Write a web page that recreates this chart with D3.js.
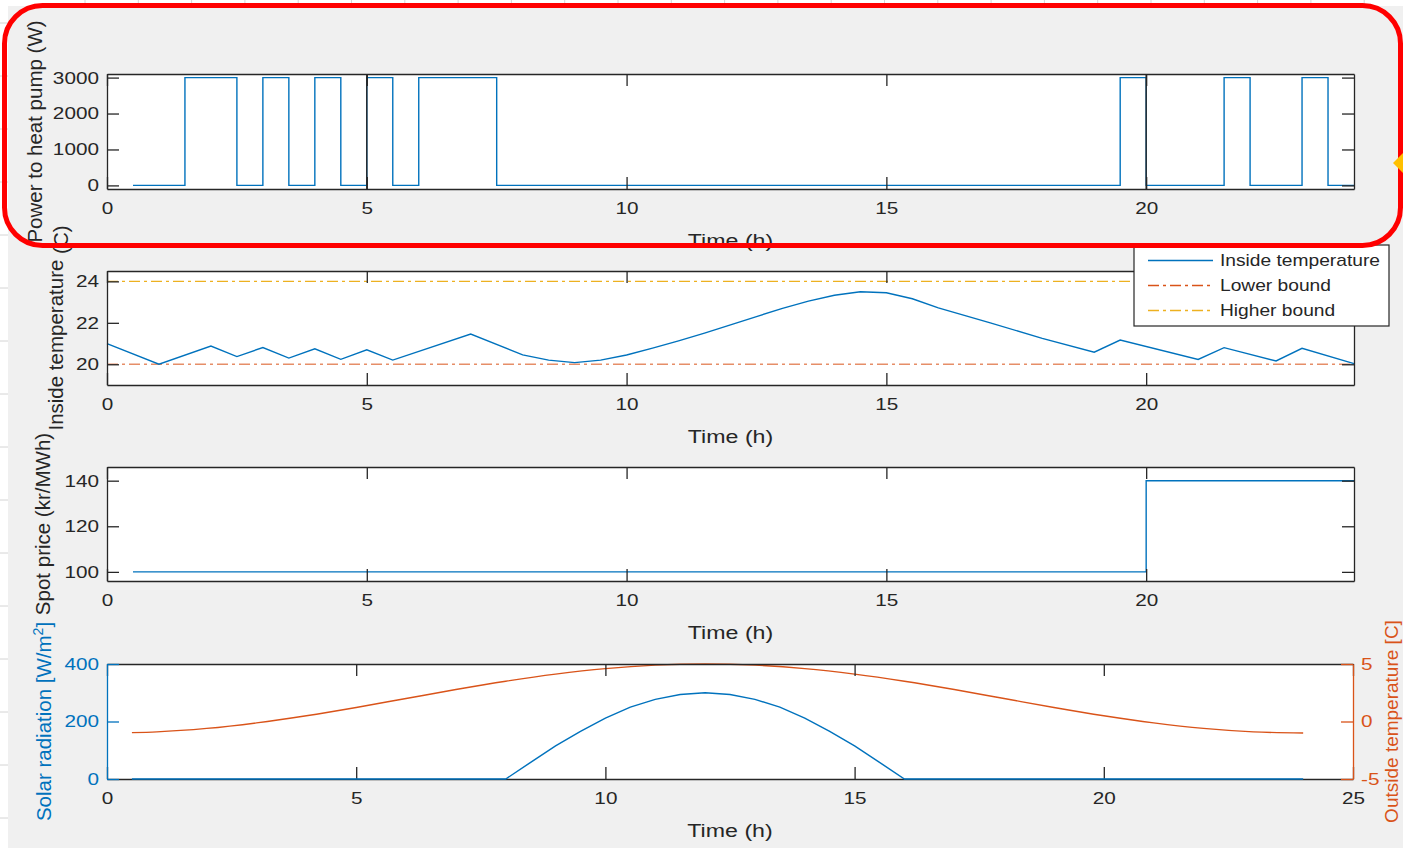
<!DOCTYPE html>
<html>
<head>
<meta charset="utf-8">
<script src="https://cdn.jsdelivr.net/npm/d3@7"></script>
<style>
  html, body { margin: 0; padding: 0; background: #f0f0f0; }
  svg { display: block; font-family: "Liberation Sans", Arial, Helvetica, sans-serif; }
</style>
</head>
<body>
<div id="chart"></div>
<script>
// ---- data ----
var powerTimes  = [0.5, 1.5, 2.5, 3, 3.5, 4, 4.5, 5, 5.5, 6, 7.5, 19.5, 20, 21.5, 22, 23, 23.5, 24];
var powerValues = [0, 3000, 0, 3000, 0, 3000, 0, 3000, 0, 3000, 0, 3000, 0, 3000, 0, 3000, 0, 0];
var powerMarks  = [5, 20];

var tempTimes  = [0, 1, 2, 2.5, 3, 3.5, 4, 4.5, 5, 5.5, 7, 8, 8.5, 9, 9.5, 10, 10.5, 11, 11.5, 12, 12.5,
                  13, 13.5, 14, 14.5, 15, 15.5, 16, 17, 18, 19, 19.5, 21, 21.5, 22.5, 23, 24];
var tempValues = [21.0, 20.0, 20.88, 20.37, 20.81, 20.3, 20.75, 20.24, 20.7, 20.2, 21.46, 20.45, 20.2, 20.08,
                  20.2, 20.45, 20.78, 21.13, 21.5, 21.9, 22.3, 22.7, 23.05, 23.33, 23.5, 23.45, 23.16, 22.72,
                  22.0, 21.25, 20.58, 21.17, 20.23, 20.8, 20.16, 20.77, 20.03];
var lowerBound  = 20;
var higherBound = 24;

var priceTimes  = [0.5, 20, 24];
var priceValues = [100, 140, 140];

var solarTimes  = [0.5, 8, 8.5, 9, 9.5, 10, 10.5, 11, 11.5, 12, 12.5, 13, 13.5, 14, 14.5, 15, 15.5, 16, 24];
var solarValues = [0, 0, 58, 115, 166, 212, 250, 277, 294, 300, 294, 277, 250, 212, 166, 115, 58, 0, 0];

var outTimes  = [0.5, 1, 2, 3, 4, 5, 6, 7, 8, 9, 10, 11, 12, 13, 14, 15, 16, 17, 18, 19, 20, 21, 22, 23, 24];
var outValues = [-0.97, -0.9, -0.6, -0.12, 0.5, 1.22, 2.0, 2.78, 3.5, 4.12, 4.6, 4.9, 5.0, 4.9, 4.6, 4.12,
                 3.5, 2.78, 2.0, 1.22, 0.5, -0.12, -0.6, -0.9, -1.0];

var hourTicks    = [0, 5, 10, 15, 20];
var hourTicks25  = [0, 5, 10, 15, 20, 25];
var powerTicks   = [0, 1000, 2000, 3000];
var tempTicks    = [20, 22, 24];
var priceTicks   = [100, 120, 140];
var solarTicks   = [0, 200, 400];
var outTicks     = [-5, 0, 5];
var legendNames  = ["Inside temperature", "Lower bound", "Higher bound"];

// ---- styles ----
var width = 1403, height = 848;
var axisColor = "#262626";
var blue = "#0072BD", orange = "#D95319", yellow = "#EDB120";
var tickLen = 12;
var stretch = 1.22;
var dashDot = "11,4,3,4";
var plain = d => String(d);

var svg = d3.select("#chart").append("svg")
  .attr("width", width)
  .attr("height", height);

svg.append("rect").attr("width", width).attr("height", height).attr("fill", "#f0f0f0");

// spreadsheet peeking out behind the figure
svg.append("rect").attr("x", 0).attr("y", 0).attr("width", width).attr("height", 6).attr("fill", "#fff");
svg.append("rect").attr("x", 0).attr("y", 0).attr("width", 8).attr("height", height).attr("fill", "#fff");
svg.append("g").selectAll("line").data(d3.range(85, width, 53.3)).join("line")
  .attr("x1", d => d).attr("x2", d => d).attr("y1", 0).attr("y2", 6)
  .attr("stroke", "#d4d4d4");
svg.append("g").selectAll("line").data(d3.range(23, height, 53)).join("line")
  .attr("x1", 0).attr("x2", 8).attr("y1", d => d).attr("y2", d => d)
  .attr("stroke", "#d4d4d4");

function stretchText(sel, k) {
  sel.each(function() {
    var t = d3.select(this);
    var x = +t.attr("x") || 0, y = +t.attr("y") || 0;
    t.attr("x", null).attr("y", null)
      .attr("transform", `translate(${x},${y}) scale(${k},1)`);
  });
}

function styleAxis(g, color, fontSize) {
  g.select(".domain").attr("stroke", color).attr("stroke-width", 1.3);
  g.selectAll(".tick line").attr("stroke", color).attr("stroke-width", 1.3);
  g.selectAll(".tick text").attr("fill", color).style("font-size", fontSize + "px");
  stretchText(g.selectAll(".tick text"), stretch);
}

function panel(opt) {
  var x = d3.scaleLinear().domain(opt.xDomain).range([107, opt.right]);
  var y = d3.scaleLinear().domain(opt.yDomain).range([opt.bottom, opt.top]);
  var g = svg.append("g");

  g.append("rect")
    .attr("x", 107).attr("y", opt.top)
    .attr("width", opt.right - 107).attr("height", opt.bottom - opt.top)
    .attr("fill", "#fff");

  var plot = g.append("g");

  var bottomAxis = g.append("g")
    .attr("transform", `translate(0,${opt.bottom})`)
    .call(d3.axisBottom(x).tickValues(opt.xTicks).tickFormat(plain)
      .tickSizeInner(-tickLen).tickSizeOuter(0).tickPadding(13));
  styleAxis(bottomAxis, axisColor, 17);

  var topAxis = g.append("g")
    .attr("transform", `translate(0,${opt.top})`)
    .call(d3.axisTop(x).tickValues(opt.xTicks).tickSizeInner(-tickLen).tickSizeOuter(0).tickFormat(""));
  styleAxis(topAxis, axisColor, 17);

  var leftColor = opt.leftColor || axisColor;
  var leftAxis = g.append("g")
    .attr("transform", `translate(107,0)`)
    .call(d3.axisLeft(y).tickValues(opt.yTicks).tickFormat(plain)
      .tickSizeInner(-tickLen).tickSizeOuter(0).tickPadding(8));
  styleAxis(leftAxis, leftColor, 17);

  var rightAxis;
  if (opt.y2Domain) {
    var y2 = d3.scaleLinear().domain(opt.y2Domain).range([opt.bottom, opt.top]);
    rightAxis = g.append("g")
      .attr("transform", `translate(${opt.right},0)`)
      .call(d3.axisRight(y2).tickValues(opt.y2Ticks).tickFormat(plain)
        .tickSizeInner(-tickLen).tickSizeOuter(0).tickPadding(8));
    styleAxis(rightAxis, orange, 17);
    opt.y2 = y2;
  } else {
    rightAxis = g.append("g")
      .attr("transform", `translate(${opt.right},0)`)
      .call(d3.axisRight(y).tickValues(opt.yTicks).tickSizeInner(-tickLen).tickSizeOuter(0).tickFormat(""));
    styleAxis(rightAxis, axisColor, 17);
  }

  // x label
  var xl = g.append("text")
    .attr("x", (107 + opt.right) / 2).attr("y", opt.bottom + 58)
    .attr("text-anchor", "middle")
    .attr("fill", axisColor)
    .style("font-size", "19px")
    .text("Time (h)");
  stretchText(xl, stretch);

  return { x: x, y: y, y2: opt.y2, plot: plot, g: g };
}

// ---- panel 1: heat pump power ----
var p1 = panel({ top: 74, bottom: 189, right: 1354, xDomain: [0, 24], yDomain: [-100, 3100],
                 xTicks: hourTicks, yTicks: powerTicks });
p1.plot.append("path")
  .datum(powerTimes.map((t, i) => [t, powerValues[i]]))
  .attr("fill", "none").attr("stroke", blue).attr("stroke-width", 1.4)
  .attr("d", d3.line().x(d => p1.x(d[0])).y(d => p1.y(d[1])).curve(d3.curveStepAfter));
p1.g.append("g").selectAll("line").data(powerMarks).join("line")
  .attr("x1", d => p1.x(d)).attr("x2", d => p1.x(d))
  .attr("y1", 74).attr("y2", 189)
  .attr("stroke", axisColor).attr("stroke-width", 1.4);

// ---- panel 2: inside temperature ----
var p2 = panel({ top: 271, bottom: 385, right: 1354, xDomain: [0, 24], yDomain: [19, 24.5],
                 xTicks: hourTicks, yTicks: tempTicks });
p2.plot.append("line")
  .attr("x1", p2.x(0)).attr("x2", p2.x(24))
  .attr("y1", p2.y(higherBound)).attr("y2", p2.y(higherBound))
  .attr("stroke", yellow).attr("stroke-width", 1.4).attr("stroke-dasharray", dashDot);
p2.plot.append("line")
  .attr("x1", p2.x(0)).attr("x2", p2.x(24))
  .attr("y1", p2.y(lowerBound)).attr("y2", p2.y(lowerBound))
  .attr("stroke", orange).attr("stroke-width", 1.4).attr("stroke-dasharray", dashDot).attr("opacity", 0.65);
p2.plot.append("path")
  .datum(tempTimes.map((t, i) => [t, tempValues[i]]))
  .attr("fill", "none").attr("stroke", blue).attr("stroke-width", 1.4)
  .attr("d", d3.line().x(d => p2.x(d[0])).y(d => p2.y(d[1])));

// ---- panel 3: spot price ----
var p3 = panel({ top: 467, bottom: 581, right: 1354, xDomain: [0, 24], yDomain: [96, 146],
                 xTicks: hourTicks, yTicks: priceTicks });
p3.plot.append("path")
  .datum(priceTimes.map((t, i) => [t, priceValues[i]]))
  .attr("fill", "none").attr("stroke", blue).attr("stroke-width", 1.4)
  .attr("d", d3.line().x(d => p3.x(d[0])).y(d => p3.y(d[1])).curve(d3.curveStepAfter));

// ---- panel 4: solar radiation & outside temperature ----
var p4 = panel({ top: 664, bottom: 779, right: 1353, xDomain: [0, 25], yDomain: [0, 400],
                 xTicks: hourTicks25, yTicks: solarTicks, leftColor: blue,
                 y2Domain: [-5, 5], y2Ticks: outTicks });
p4.plot.append("path")
  .datum(outTimes.map((t, i) => [t, outValues[i]]))
  .attr("fill", "none").attr("stroke", orange).attr("stroke-width", 1.4)
  .attr("d", d3.line().x(d => p4.x(d[0])).y(d => p4.y2(d[1])).curve(d3.curveMonotoneX));
// solar line drawn above the axes so its zero part covers the bottom edge
p4.g.append("path")
  .datum(solarTimes.map((t, i) => [t, solarValues[i]]))
  .attr("fill", "none").attr("stroke", blue).attr("stroke-width", 1.4)
  .attr("d", d3.line().x(d => p4.x(d[0])).y(d => p4.y(d[1])));

// ---- y labels ----
function yLabel(x, y, color) {
  return svg.append("text")
    .attr("transform", `translate(${x},${y}) rotate(-90)`)
    .attr("text-anchor", "middle")
    .attr("fill", color)
    .style("font-size", "20.5px");
}
yLabel(42, 131.5, axisColor).text("Power to heat pump (W)");
var l2 = yLabel(63, 328, axisColor);
l2.append("tspan").text("Inside temperature ");
l2.append("tspan").attr("dy", 5).text("(C)");
yLabel(50, 524, axisColor).text("Spot price (kr/MWh)");
var l4 = yLabel(51, 721.5, blue);
l4.append("tspan").text("Solar radiation [W/m");
l4.append("tspan").attr("dy", -8).style("font-size", "14px").text("2");
l4.append("tspan").attr("dy", 8).text("]");
yLabel(1398, 721.5, orange).style("font-size", "19px").text("Outside temperature [C]");

// ---- legend ----
var legend = svg.append("g");
legend.append("rect")
  .attr("x", 1134).attr("y", 245).attr("width", 255).attr("height", 81)
  .attr("fill", "#fff").attr("stroke", axisColor).attr("stroke-width", 1.2);
var legendColors = [blue, orange, yellow];
var legendDash = [null, dashDot, dashDot];
var row = d3.scaleBand().domain(legendNames).range([248, 323]);
var items = legend.selectAll("g.item").data(legendNames).join("g").attr("class", "item");
items.append("line")
  .attr("x1", 1148).attr("x2", 1213)
  .attr("y1", d => row(d) + row.bandwidth() / 2).attr("y2", d => row(d) + row.bandwidth() / 2)
  .attr("stroke", (d, i) => legendColors[i]).attr("stroke-width", 1.4)
  .attr("stroke-dasharray", (d, i) => legendDash[i]);
var legendText = items.append("text")
  .attr("x", 1220).attr("y", d => row(d) + row.bandwidth() / 2)
  .attr("dy", "0.35em")
  .attr("fill", axisColor)
  .style("font-size", "16px")
  .text(d => d);
stretchText(legendText, 1.2);

// ---- annotation overlays ----
svg.append("rect")
  .attr("x", 4.5).attr("y", 5.5).attr("width", 1396).attr("height", 240)
  .attr("rx", 38).attr("ry", 38)
  .attr("fill", "none").attr("stroke", "#ff0000").attr("stroke-width", 5);
svg.append("polygon")
  .attr("points", "1393,163 1404,152 1415,163 1404,174")
  .attr("fill", "#ffc000");
</script>
</body>
</html>
